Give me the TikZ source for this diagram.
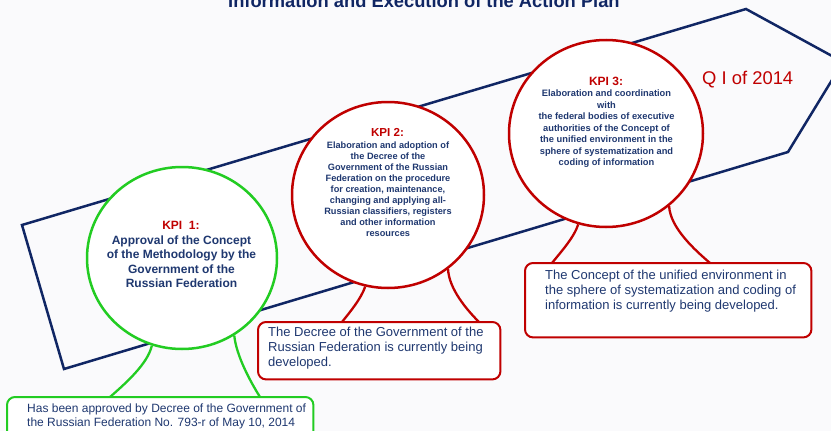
\documentclass[tikz,border=0pt]{standalone}
\usepackage{fontspec}
\setmainfont{Liberation Sans}
\usetikzlibrary{calc,shapes.geometric}
\definecolor{navy}{RGB}{16,38,100}
\definecolor{txt}{RGB}{31,56,112}
\definecolor{kred}{RGB}{192,0,0}
\definecolor{kgreen}{RGB}{34,204,34}
\definecolor{bg}{RGB}{250,250,252}
\tikzset{
  kpicircle/.style n args={2}{ellipse, fill=white, line width=2.5pt, minimum width=#1, minimum height=#2, inner sep=0pt},
  calloutbox/.style={inner sep=0pt, anchor=north west, draw=none, fill=none},
  leg/.style={line width=2.3pt},
  kpilabel/.style={font=\bfseries\fontsize{12}{14}\selectfont, text=kred, anchor=base, inner sep=0pt},
  kpibody/.style n args={2}{font=\bfseries\fontsize{#1}{#2}\selectfont, text=txt, align=center, anchor=north, inner sep=0pt},
  boxtext/.style={font=\fontsize{13}{15}\selectfont, text=txt, align=left, anchor=north west, inner sep=0pt},
  boxline/.style={fill=white, line width=2pt, rounded corners=8pt},
}
\begin{document}
\begin{tikzpicture}[x=1pt,y=-1pt]
\fill[bg] (0,0) rectangle (831,431);
\useasboundingbox (0,0) rectangle (831,431);
\clip (0,0) rectangle (831,431);

% title (cut at top, as in the reference)
\node[font=\bfseries\fontsize{18.3}{22}\selectfont, text=navy, anchor=base west, inner sep=0pt] (title) at (228,7) {Information and Execution of the Action Plan};

% big arrow shape
\coordinate (pA) at (22,225);
\coordinate (pE) at (746,9);
\coordinate (pD) at (843,62);
\coordinate (pC) at (788,152);
\coordinate (pB) at (64,369);
\draw[navy, line width=2.5pt, line join=miter] (pA) -- (pE) -- (pD) -- (pC) -- (pB) -- cycle;

% box frames (for anchors)
\node[calloutbox, minimum width=306pt, minimum height=50pt] (b1) at (7,397) {};
\node[calloutbox, minimum width=242pt, minimum height=57pt] (b2) at (258,322) {};
\node[calloutbox, minimum width=286pt, minimum height=74pt] (b3) at (525,263) {};

% circles (shapes for anchors)
\node[kpicircle={190pt}{182pt}] (c1) at (182,258) {};
\node[kpicircle={192pt}{186pt}] (c2) at (388,195) {};
\node[kpicircle={194pt}{187pt}] (c3) at (606,133.5) {};

% legs
\draw[leg, kgreen] (c1.251.4) .. controls +(-4,18) and +(16,-14) .. ($(b1.north west)+(103,0)$);
\draw[leg, kgreen] (c1.304) .. controls +(2,20) and +(-10,-16) .. ($(b1.north west)+(253,0)$);
\draw[leg, kred] (c2.256.5) .. controls +(-4,12) and +(8,-10) .. ($(b2.north west)+(84,0)$);
\draw[leg, kred] (c2.309) .. controls +(1,20) and +(-12,-12) .. ($(b2.north west)+(221,0)$);
\draw[leg, kred] (c3.253.9) .. controls +(-4,13) and +(8,-10) .. ($(b3.north west)+(27,0)$);
\draw[leg, kred] (c3.311.5) .. controls +(1,22) and +(-14,-12) .. ($(b3.north west)+(185,0)$);

% circle outlines on top
\draw[kgreen, line width=2.5pt, fill=white] (c1.center) ellipse [x radius=95pt, y radius=91pt];
\draw[kred, line width=2.5pt, fill=white] (c2.center) ellipse [x radius=96pt, y radius=93pt];
\draw[kred, line width=2.5pt, fill=white] (c3.center) ellipse [x radius=97pt, y radius=93.5pt];

% boxes on top
\draw[kgreen, boxline] (b1.north west) rectangle (b1.south east);
\draw[kred, boxline] (b2.north west) rectangle (b2.south east);
\draw[kred, boxline] (b3.north west) rectangle (b3.south east);

% circle texts
\node[kpilabel] (k1) at (181,229.3) {KPI\ \ 1:};
\node[kpibody={12}{14.4}] (t1) at (181.5,235.6) {Approval of the Concept\\of the Methodology by the\\Government of the\\Russian Federation};

\node[kpilabel, font=\bfseries\fontsize{11.6}{14}\selectfont] (k2) at (387.5,136.2) {KPI 2:};
\node[kpibody={9.2}{11}] (t2) at (388,141.7) {Elaboration and adoption of\\the Decree of the\\Government of the Russian\\Federation on the procedure\\for creation, maintenance,\\changing and applying all-\\Russian classifiers, registers\\and other information\\resources};

\node[kpilabel] (k3) at (606,85.3) {KPI 3:};
\node[kpibody={9.3}{11.5}] (t3) at (606.5,89.7) {Elaboration and coordination\\with\\the federal bodies of executive\\authorities of the Concept of\\the unified environment in the\\sphere of systematization and\\coding of information};

\node[font=\fontsize{18.4}{22}\selectfont, text=kred, anchor=base west, inner sep=0pt] (q) at (702,84.6) {Q I of 2014};

% box texts
\node[boxtext, font=\fontsize{12}{14}\selectfont] (bt1) at (27,403.7) {Has been approved by Decree of the Government of\\the Russian Federation No. 793-r of May 10, 2014};
\node[boxtext] (bt2) at (268,327.2) {The Decree of the Government of the\\Russian Federation is currently being\\developed.};
\node[boxtext] (bt3) at (545,270.2) {The Concept of the unified environment in\\the sphere of systematization and coding of\\information is currently being developed.};
\end{tikzpicture}
\end{document}
